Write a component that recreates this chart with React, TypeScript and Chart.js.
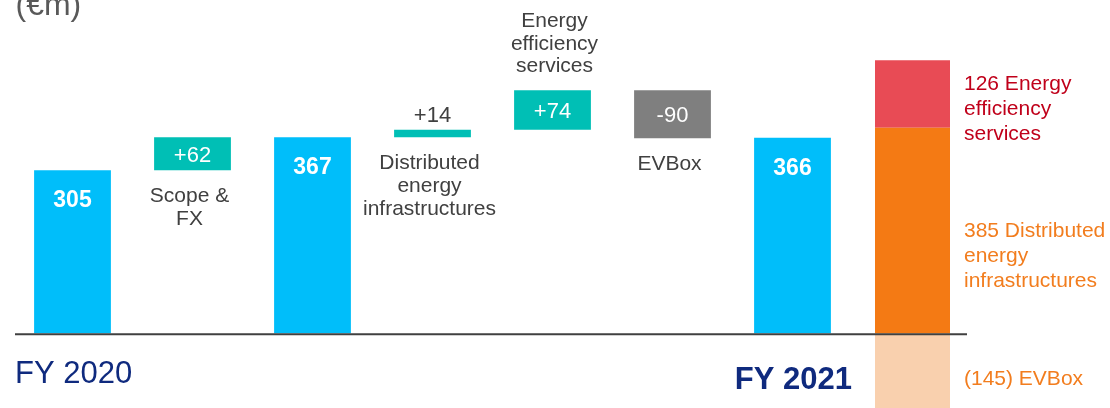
import React, { useEffect, useRef } from "react";
import { Chart, registerables } from "chart.js";

Chart.register(...registerables);

// ---------- data ----------
const categories = [
  "FY 2020",
  "Scope & FX",
  "FY 2020 incl. scope",
  "Distributed energy infrastructures",
  "Energy efficiency services",
  "EVBox",
  "FY 2021",
  "FY 2021 split",
];
const stepKinds = ["total", "delta", "total", "delta", "delta", "delta", "total"];
const stepValues = [305, 62, 367, 14, 74, -90, 366];
const categoryLines: string[][] = [
  [],
  ["Scope &", "FX"],
  [],
  ["Distributed", "energy", "infrastructures"],
  ["Energy", "efficiency", "services"],
  ["EVBox"],
  [],
  [],
];
const categoryPlacement = ["", "below", "", "below", "above", "below", "", ""];

const breakdownLines: string[][] = [
  ["Distributed", "energy", "infrastructures"],
  ["Energy", "efficiency", "services"],
  ["EVBox"],
];
const breakdownValues = [385, 126, -145];

const unitLabel = "(€m)";
const startLabel = "FY 2020";
const endLabel = "FY 2021";

// ---------- styles ----------
const FONT = "'Liberation Sans', Arial, sans-serif";
const BLUE = "#00BEFA";
const TEAL = "#00BFB5";
const GREY = "#7F7F7F";
const TEXT = "#404040";
const NAVY = "#0F2A7E";
const breakdownColors = ["#F47A14", "#E84B55", "#F9D0AE"];
const breakdownTextColors = ["#F27D1E", "#C0001A", "#F27D1E"];
const breakdownDy = [7, -3.5, 13];

// ---------- derived ----------
let running = 0;
const waterfallRanges = stepValues.map((v, i) => {
  if (stepKinds[i] === "total") {
    running = v;
    return [0, v];
  }
  const s = running;
  running += v;
  return [s, running];
});
const waterfallColors = stepValues.map((v, i) =>
  stepKinds[i] === "total" ? BLUE : v >= 0 ? TEAL : GREY
);

let posBase = 0;
let negBase = 0;
const breakdownRanges = breakdownValues.map((v) => {
  if (v >= 0) {
    const r = [posBase, posBase + v];
    posBase += v;
    return r;
  }
  const r = [negBase + v, negBase];
  negBase += v;
  return r;
});

const fmt = (v: number) => (v < 0 ? `(${Math.abs(v)})` : `${v}`);
const fmtDelta = (v: number) => (v >= 0 ? `+${v}` : `${v}`);

const labelsPlugin = {
  id: "waterfallLabels",
  afterDatasetsDraw(chart: any) {
    const ctx = chart.ctx as CanvasRenderingContext2D;
    const area = chart.chartArea;
    const y0 = chart.scales.y.getPixelForValue(0);
    ctx.save();

    // baseline axis
    ctx.strokeStyle = "#404040";
    ctx.lineWidth = 2.2;
    ctx.beginPath();
    ctx.moveTo(area.left + 2.5, y0 + 1);
    ctx.lineTo(area.right - 5.5, y0 + 1);
    ctx.stroke();

    const meta = chart.getDatasetMeta(0);
    stepValues.forEach((v, i) => {
      const el: any = meta.data[i];
      if (!el) return;
      const top = Math.min(el.y, el.base);
      const bottom = Math.max(el.y, el.base);
      const cx = el.x;
      if (stepKinds[i] === "total") {
        ctx.font = `bold 23px ${FONT}`;
        ctx.fillStyle = "#ffffff";
        ctx.textAlign = "center";
        ctx.textBaseline = "alphabetic";
        ctx.fillText(String(v), cx, top + 37);
      } else {
        ctx.font = `22px ${FONT}`;
        ctx.textAlign = "center";
        ctx.textBaseline = "alphabetic";
        if (bottom - top >= 20) {
          ctx.fillStyle = "#ffffff";
          ctx.fillText(fmtDelta(v), cx, (top + bottom) / 2 + 8);
        } else {
          ctx.fillStyle = TEXT;
          ctx.fillText(fmtDelta(v), cx, top - 8);
        }
      }
      const lines = categoryLines[i];
      if (lines.length) {
        ctx.font = `21px ${FONT}`;
        ctx.fillStyle = TEXT;
        ctx.textAlign = "center";
        if (categoryPlacement[i] === "below") {
          lines.forEach((t, k) => ctx.fillText(t, cx - 3, bottom + 32 + k * 23));
        } else {
          const n = lines.length;
          lines.forEach((t, k) => ctx.fillText(t, cx + 2, top - 18 - (n - 1 - k) * 22.5));
        }
      }
    });

    // FY labels
    const first: any = meta.data[0];
    const last: any = meta.data[6];
    ctx.fillStyle = NAVY;
    ctx.textAlign = "left";
    ctx.font = `31px ${FONT}`;
    ctx.fillText(startLabel, first.x - first.width / 2 - 19, y0 + 50);
    ctx.textAlign = "right";
    ctx.font = `bold 31px ${FONT}`;
    ctx.fillText(endLabel, last.x + last.width / 2 + 21, y0 + 56);

    // breakdown labels
    breakdownValues.forEach((v, j) => {
      const el: any = chart.getDatasetMeta(j + 1).data[7];
      if (!el) return;
      const mid = (el.y + el.base) / 2;
      const x = el.x + el.width / 2 + 14;
      ctx.font = `21px ${FONT}`;
      ctx.fillStyle = breakdownTextColors[j];
      ctx.textAlign = "left";
      const lines = breakdownLines[j].map((t, k) => (k === 0 ? `${fmt(v)} ${t}` : t));
      lines.forEach((t, k) => ctx.fillText(t, x, mid + breakdownDy[j] + k * 25));
    });

    // unit label
    ctx.font = `32px ${FONT}`;
    ctx.fillStyle = "#595959";
    ctx.textAlign = "left";
    ctx.fillText(unitLabel, area.left + 3, 15);

    ctx.restore();
  },
};

export default function App() {
  const ref = useRef<HTMLCanvasElement>(null);
  useEffect(() => {
    if (!ref.current) return;
    const datasets: any[] = [
      {
        label: "Waterfall",
        data: [...waterfallRanges, null],
        backgroundColor: [...waterfallColors, "rgba(0,0,0,0)"],
        barPercentage: 0.64,
        categoryPercentage: 1,
        grouped: false,
        borderWidth: 0,
      },
      ...breakdownValues.map((v, j) => ({
        label: breakdownLines[j].join(" "),
        data: categories.map((_, i) => (i === 7 ? breakdownRanges[j] : null)),
        backgroundColor: breakdownColors[j],
        barPercentage: 0.625,
        categoryPercentage: 1,
        grouped: false,
        borderWidth: 0,
      })),
    ];
    const chart = new Chart(ref.current, {
      type: "bar",
      data: { labels: categories, datasets },
      options: {
        animation: false,
        responsive: false,
        devicePixelRatio: 1,
        layout: { padding: { left: 12.5, right: 137.5, top: 0, bottom: 0 } },
        plugins: { legend: { display: false }, tooltip: { enabled: false } },
        scales: {
          x: { display: false, offset: true },
          y: { display: false, min: -140, max: 624 },
        },
      },
      plugins: [labelsPlugin],
    } as any);
    return () => chart.destroy();
  }, []);
  return (
    <div style={{ position: "absolute", left: 0, top: 0, width: 1110, height: 408, background: "#fff" }}>
      <canvas ref={ref} width={1110} height={408} />
    </div>
  );
}
